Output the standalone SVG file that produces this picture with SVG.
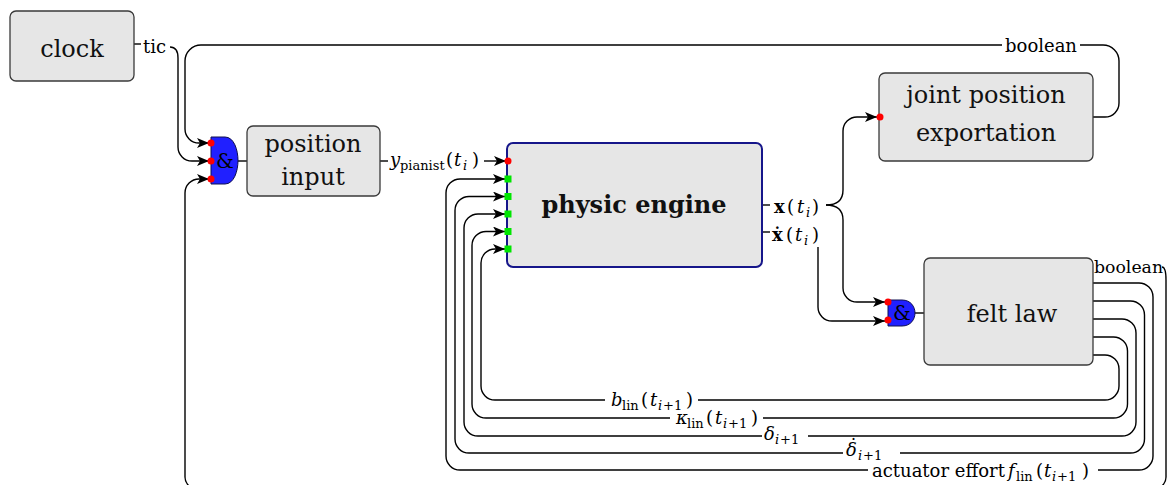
<svg xmlns="http://www.w3.org/2000/svg" width="1173" height="485" viewBox="0 0 1173 485">
<style>
.node{fill:#e6e6e6;stroke:#3a3a3a;stroke-width:1.3}
.pe{fill:#e6e6e6;stroke:#16168a;stroke-width:2}
.wire{fill:none;stroke:#000;stroke-width:1.4}
.arr{marker-end:url(#stealth)}
.lbl{font-family:"DejaVu Serif",serif;font-size:18px;fill:#000}
.ntx{font-family:"DejaVu Serif",serif;font-size:24px;text-anchor:middle;fill:#111}
.it{font-style:italic}
.b{font-weight:bold}
.sub{font-size:13px}
.mask{fill:#fff}
.dot{fill:#ff0000}
.sq{fill:#00e600}
.gate{fill:#2020ff;stroke:#101050;stroke-width:1}
.amp{font-family:"DejaVu Serif",serif;font-size:20px;text-anchor:middle;fill:#000}
</style>
<defs>
<marker id="stealth" viewBox="0 0 12 10" refX="12" refY="5" markerWidth="12" markerHeight="10" markerUnits="userSpaceOnUse" orient="auto"><path d="M0,0 L12,5 L0,10 L3,5 Z" fill="#000"/></marker>
</defs>

<g id="connectors">
<!-- clock tic -->
<path class="wire" d="M134,44 H141"/>
<path class="wire arr" d="M170,47 C175,47 178,51 178,58 V147 A14,14 0 0 0 192,161 H209"/>
<!-- top boolean from joint position -->
<path class="wire arr" d="M1093,117 H1105 A14,14 0 0 0 1119,103 V61 A16,16 0 0 0 1103,45 H201 A16,16 0 0 0 185,61 V129 A14,14 0 0 0 199,143 H209"/>
<!-- felt boolean feedback -->
<path class="wire arr" d="M1162,267 C1165,267 1166,272 1166,280 V477 A12,12 0 0 1 1154,489 H197 A12,12 0 0 1 185,477 V193 A14,14 0 0 1 199,179 H209"/>
<!-- gate1 to position input -->
<path class="wire" d="M238,161 H247"/>
<!-- position input to physic engine -->
<path class="wire" d="M380,161 H388"/>
<path class="wire arr" d="M484,161 H506"/>
<!-- felt law to physic engine -->
<path class="wire arr" d="M1093,283 H1139 A14,14 0 0 1 1153,297 V456 A14,14 0 0 1 1139,470 H460 A14,14 0 0 1 446,456 V193 A14,14 0 0 1 460,179 H505"/>
<path class="wire arr" d="M1093,301 H1130.5 A14,14 0 0 1 1144.5,315 V439 A14,14 0 0 1 1130.5,453 H469 A14,14 0 0 1 455,439 V210.5 A14,14 0 0 1 469,196.5 H505"/>
<path class="wire arr" d="M1093,319 H1122 A14,14 0 0 1 1136,333 V422 A14,14 0 0 1 1122,436 H478 A14,14 0 0 1 464,422 V228 A14,14 0 0 1 478,214 H505"/>
<path class="wire arr" d="M1093,337 H1113.5 A14,14 0 0 1 1127.5,351 V404 A14,14 0 0 1 1113.5,418 H486 A14,14 0 0 1 472,404 V245.5 A14,14 0 0 1 486,231.5 H505"/>
<path class="wire arr" d="M1093,355 H1105 A14,14 0 0 1 1119,369 V386 A14,14 0 0 1 1105,400 H495 A14,14 0 0 1 481,386 V263 A14,14 0 0 1 495,249 H505"/>
<!-- physic engine outputs -->
<path class="wire" d="M762,205 H770"/>
<path class="wire" d="M762,232 H770"/>
<path class="wire arr" d="M826,205 Q843,205 843,190 V131 A14,14 0 0 1 857,117 H877"/>
<path class="wire arr" d="M826,205 Q843,205 843,220 V288 A14,14 0 0 0 857,302 H885"/>
<path class="wire arr" d="M818,247 V307 A14,14 0 0 0 832,321 H885"/>
<!-- gate2 to felt law -->
<path class="wire" d="M915,313 H924"/>

<!-- labels -->
<text class="lbl" x="143" y="53">tic</text>
<rect class="mask" x="1002" y="35" width="78" height="20"/>
<text class="lbl" x="1041" y="52" text-anchor="middle">boolean</text>
<text class="lbl" x="1094" y="273" style="font-size:17.3px">boolean</text>
<text class="lbl" y="166"><tspan x="390" class="it">y</tspan><tspan x="400" y="170" class="sub">pianist</tspan><tspan x="446" y="166">(</tspan><tspan x="454" class="it">t</tspan><tspan x="463" y="170" class="sub it">i</tspan><tspan x="472" y="166">)</tspan></text>
<text class="lbl" y="213"><tspan x="774" class="b">x</tspan><tspan x="787">(</tspan><tspan x="797" class="it">t</tspan><tspan x="806" y="217" class="sub it">i</tspan><tspan x="812" y="213">)</tspan></text>
<text class="lbl" y="241"><tspan x="772" class="b">ẋ</tspan><tspan x="786">(</tspan><tspan x="795" class="it">t</tspan><tspan x="804" y="245" class="sub it">i</tspan><tspan x="812" y="241">)</tspan></text>

<rect class="mask" x="605" y="391" width="93" height="20"/>
<text class="lbl" y="406"><tspan x="611" class="it">b</tspan><tspan x="622" y="410" class="sub">lin</tspan><tspan x="641" y="406">(</tspan><tspan x="650" class="it">t</tspan><tspan x="658" y="410" class="sub it">i</tspan><tspan x="663" class="sub">+1</tspan><tspan x="686" y="406">)</tspan></text>
<rect class="mask" x="670" y="411" width="93" height="20"/>
<text class="lbl" y="424"><tspan x="676" class="it">κ</tspan><tspan x="687" y="428" class="sub">lin</tspan><tspan x="706" y="424">(</tspan><tspan x="715" class="it">t</tspan><tspan x="723" y="428" class="sub it">i</tspan><tspan x="728" class="sub">+1</tspan><tspan x="751" y="424">)</tspan></text>
<rect class="mask" x="762" y="426" width="46" height="20"/>
<text class="lbl" y="440"><tspan x="764" class="it">δ</tspan><tspan x="775" y="444" class="sub it">i</tspan><tspan x="780" class="sub">+1</tspan></text>
<rect class="mask" x="843" y="440" width="57" height="20"/>
<text class="lbl" y="456"><tspan x="846" class="it">δ</tspan><tspan x="858" y="460" class="sub it">i</tspan><tspan x="863" class="sub">+1</tspan><tspan x="849" y="452">˙</tspan></text>
<rect class="mask" x="868" y="462" width="230" height="21"/>
<text class="lbl" y="477"><tspan x="872">actuator effort</tspan><tspan x="1008" class="it">f</tspan><tspan x="1016" y="481" class="sub">lin</tspan><tspan x="1036" y="477">(</tspan><tspan x="1044" class="it">t</tspan><tspan x="1052" y="481" class="sub it">i</tspan><tspan x="1057" class="sub">+1</tspan><tspan x="1082" y="477">)</tspan></text>
</g>

<g id="clock">
<rect class="node" x="10" y="11" width="124" height="70" rx="6"/>
<text class="ntx" x="72" y="57">clock</text>
</g>

<g id="gate1">
<path class="gate" d="M211,137 H225 C234,137 238,150 238,160.5 C238,171 234,184 225,184 H211 Z"/>
<text class="amp" x="225" y="168">&amp;</text>
<circle class="dot" cx="211" cy="143" r="3.5"/>
<circle class="dot" cx="211" cy="161" r="3.5"/>
<circle class="dot" cx="211" cy="179" r="3.5"/>
</g>

<g id="position-input">
<rect class="node" x="247" y="126" width="133" height="70" rx="6"/>
<text class="ntx" x="313" y="152">position</text>
<text class="ntx" x="313" y="185">input</text>
</g>

<g id="physic-engine">
<rect class="pe" x="507" y="143" width="255" height="124" rx="6"/>
<text class="ntx b" x="634" y="213">physic engine</text>
<circle class="dot" cx="508" cy="161" r="3.5"/>
<rect class="sq" x="504.5" y="175.5" width="7" height="7"/>
<rect class="sq" x="504.5" y="193" width="7" height="7"/>
<rect class="sq" x="504.5" y="210.5" width="7" height="7"/>
<rect class="sq" x="504.5" y="228" width="7" height="7"/>
<rect class="sq" x="504.5" y="245.5" width="7" height="7"/>
</g>

<g id="joint-position-exportation">
<rect class="node" x="879" y="73" width="214" height="88" rx="6"/>
<text class="ntx" x="986" y="103">joint position</text>
<text class="ntx" x="986" y="141">exportation</text>
<circle class="dot" cx="880" cy="117" r="3.5"/>
</g>

<g id="gate2">
<path class="gate" d="M888,300 H902 C911,300 915,307 915,313 C915,319 911,326 902,326 H888 Z"/>
<text class="amp" x="902" y="320">&amp;</text>
<circle class="dot" cx="888" cy="302" r="3.5"/>
<circle class="dot" cx="888" cy="320" r="3.5"/>
</g>

<g id="felt-law">
<rect class="node" x="924" y="258" width="169" height="107" rx="6"/>
<text class="ntx" x="1012" y="322">felt law</text>
</g>
</svg>
